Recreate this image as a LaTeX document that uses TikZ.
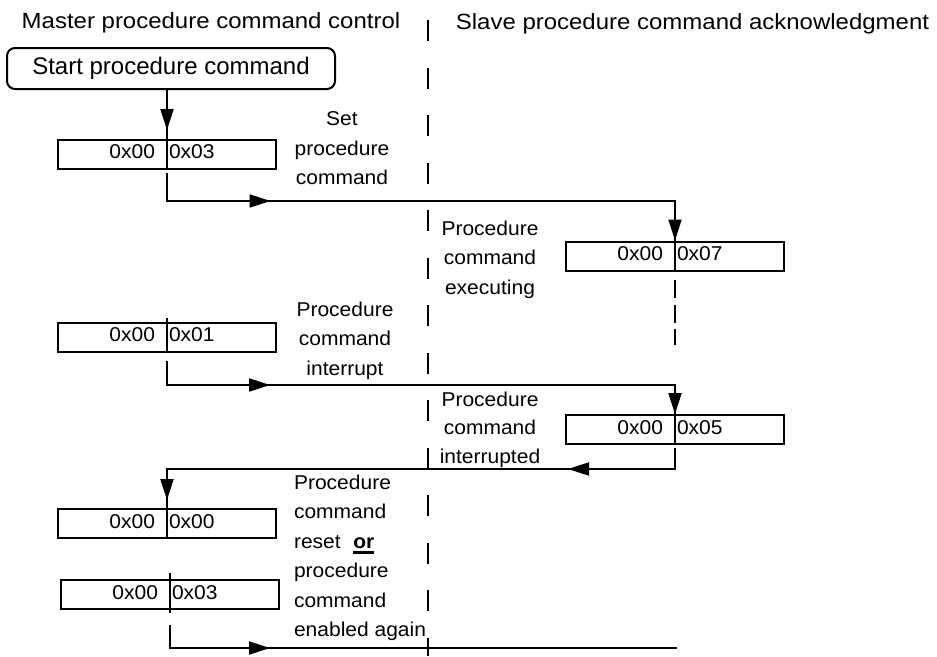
\documentclass[tikz,border=0pt]{standalone}
\usepackage{fontspec}
\setmainfont{Liberation Sans}
\usetikzlibrary{arrows.meta,decorations.markings}
\newcommand{\myor}{\setbox0\hbox{\textbf{or}}\rlap{\rule[-5.5pt]{\wd0}{2.6pt}}\box0}
\begin{document}
\begin{tikzpicture}[x=1pt,y=-1pt,line width=2pt,
  hdr/.style={font=\fontsize{22}{26}\selectfont, xscale=1.09, inner sep=0},
  lbl/.style={font=\fontsize{20}{29.5}\selectfont, xscale=1.05, inner sep=0, align=center, anchor=north},
  boxtxt/.style={font=\fontsize{20}{24}\selectfont, xscale=1.05, inner sep=0},
  startbox/.style={draw, rounded corners=8pt, minimum width=328pt, minimum height=41pt, inner sep=0, outer sep=0, font=\fontsize{24}{28}\selectfont},
  regbox/.style={draw, minimum width=218pt, minimum height=29pt, inner sep=0, outer sep=0},
  onearrow/.style={postaction={decorate}, decoration={markings, mark=at position #1 with {\arrow{Triangle[length=21pt,width=13pt]}}}},
  twoarrows/.style 2 args={postaction={decorate}, decoration={markings,
     mark=at position #1 with {\arrow{Triangle[length=21pt,width=13pt]}},
     mark=at position #2 with {\arrow{Triangle[length=21pt,width=13pt]}}}},
  centerdash/.style={dash pattern=on 21pt off 26.5pt},
  slavedash/.style={dash pattern=on 18pt off 6.5pt}]
\useasboundingbox (0,0) rectangle (937,656);

% headers
\node[hdr, anchor=base] (hm) at (211,28) {Master procedure command control};
\node[hdr, anchor=base] (hs) at (692.5,29) {Slave procedure command acknowledgment};

% centre separator
\coordinate (ctop) at (428,20);
\coordinate (cbot) at (428,656);
\draw[centerdash] (ctop) -- (cbot);

% start
\node[startbox] (start) at (171,68.5) {Start procedure command};

% register boxes
\node[regbox] (b1) at (167,154) {};
\node[regbox] (b2) at (675,256) {};
\node[regbox] (b3) at (167,337) {};
\node[regbox] (b4) at (675,429.5) {};
\node[regbox] (b5) at (167,523.5) {};
\node[regbox] (b6) at (170,594.5) {};

\foreach \b/\l/\r in {b1/0x00/0x03, b2/0x00/0x07, b3/0x00/0x01, b4/0x00/0x05, b5/0x00/0x00, b6/0x00/0x03}{
  \node[boxtxt, anchor=base east] (\b l) at ([xshift=-11pt,yshift=10pt]\b.south) {\l};
  \node[boxtxt, anchor=base west] (\b r) at ([xshift=1pt,yshift=10pt]\b.south) {\r};
}

% connectors
\draw[onearrow=41pt] (start.south -| b1.north) -- (b1.south);

\coordinate (s1) at ([yshift=-4pt]b1.south);
\coordinate (k1) at (675,201);
\draw[twoarrows={132pt}{576pt}] (s1) |- (k1) -- (b2.south);
\coordinate (sd1) at ([yshift=-9.5pt]b2.south);
\coordinate (sd2) at ([yshift=-74.5pt]b2.south);
\draw[slavedash] (sd1) -- (sd2);

\draw ([yshift=5pt]b3.north) -- (b3.south);
\coordinate (s3) at ([yshift=-9pt]b3.south);
\coordinate (k3) at (675,385);
\draw[twoarrows={127.5pt}{561.5pt}] (s3) |- (k3) -- (b4.south);

\coordinate (s4) at ([yshift=-4pt]b4.south);
\coordinate (k4) at (167,469);
\draw[twoarrows={128pt}{560pt}] (s4) |- (k4) -- (b5.south);

\draw ([yshift=7pt]b6.north) -- ([yshift=-4pt]b6.south);
\coordinate (s6) at ([yshift=-16pt]b6.south);
\coordinate (e6) at (677,648);
\draw[onearrow=123pt] (s6) |- (e6);

% labels
\node[lbl] (l1) at (342,110.6) {Set\\procedure\\command};
\node[lbl] (l2) at (490,219.6) {Procedure\\command\\executing};
\node[lbl] (l3) at (345,300.6) {Procedure\\command\\interrupt};
\node[lbl, font=\fontsize{20}{28.5}\selectfont] (l4) at (490,390.6) {Procedure\\command\\interrupted};
\node[lbl, align=left, anchor=north west] (l5) at (293,473.6) {Procedure\\command\\reset\hspace{12pt}\myor\\procedure\\command\\enabled again};
\end{tikzpicture}
\end{document}
